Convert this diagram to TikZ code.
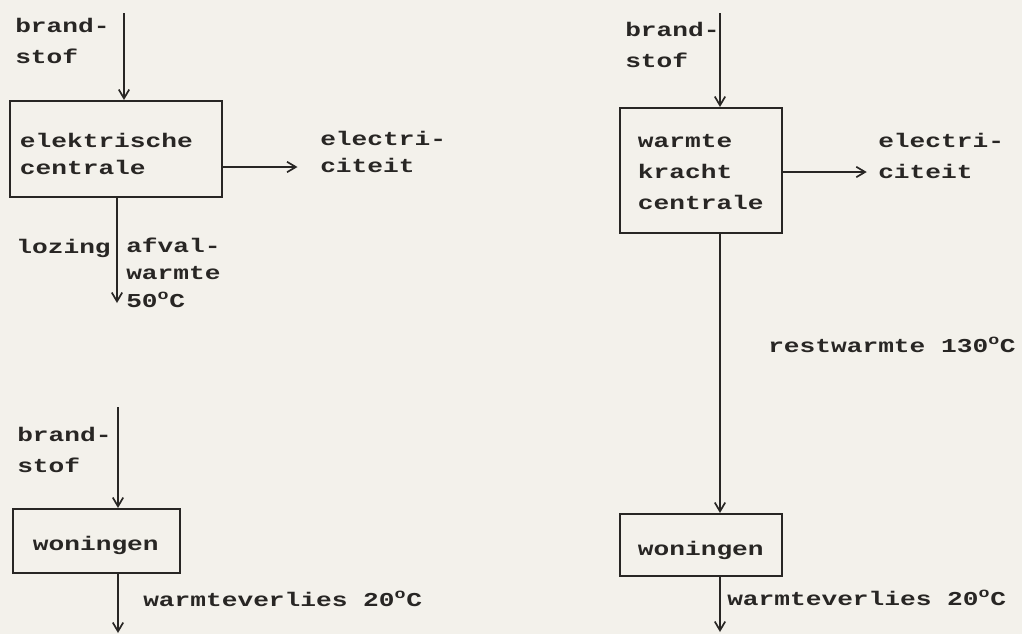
\documentclass[tikz,border=0pt]{standalone}
\usepackage{fontspec}
\setmonofont[FakeStretch=1.33]{Liberation Mono}
\usetikzlibrary{arrows.meta, positioning}
\definecolor{paper}{RGB}{243,241,235}
\definecolor{ink}{RGB}{40,38,36}

\begin{document}
\begin{tikzpicture}[x=0.025cm, y=-0.025cm,
    every node/.style={font=\ttfamily\bfseries\fontsize{14}{22}\selectfont, text=ink},
    box/.style={rectangle, draw=ink, line width=1.2pt, inner ysep=0pt, align=left, anchor=north},
    lbl/.style={inner sep=0pt, align=left, anchor=base west},
    arrow/.style={draw=ink, line width=1.2pt, -{Straight Barb[length=2.2mm, width=2.6mm]}}]

    \useasboundingbox (0,0) rectangle (1022,634);
    \fill[paper] (0,0) rectangle (1022,634);

    % Nodes: elektrische centrale
    \node [box, minimum width=5.3cm, inner xsep=0.25cm, text width=4.8cm,
           text height=1.175cm, text depth=1.225cm,
           font=\ttfamily\bfseries\fontsize{14}{19.2}\selectfont] (ec) at (116,100) {elektrische\\centrale};
    \node [lbl] (ecfuel) at (15,63) {brand-\\stof};
    \node [lbl, font=\ttfamily\bfseries\fontsize{14}{19}\selectfont] (ecelec) at (320,172) {electri-\\citeit};
    \node [lbl, anchor=base east] (dump) at (111,253) {lozing};
    \node [lbl, font=\ttfamily\bfseries\fontsize{14}{19.5}\selectfont] (waste) at (126,307) {afval-\\warmte\\50\textsuperscript{o}C};

    % Nodes: woningen (links)
    \node [box, minimum width=4.175cm, inner xsep=0.5cm, text width=3.175cm,
           text height=1.05cm, text depth=0.55cm] (hl) at (96.5,508) {woningen};
    \node [lbl] (hlfuel) at (17,472) {brand-\\stof};
    \node [lbl] (hlloss) at (143,606) {warmteverlies 20\textsuperscript{o}C};

    % Nodes: warmte kracht centrale
    \node [box, minimum width=4.05cm, inner xsep=0.45cm, text width=3.15cm,
           text height=1.0cm, text depth=2.125cm] (wkc) at (701,107) {warmte\\kracht\\centrale};
    \node [lbl] (wkcfuel) at (625,67) {brand-\\stof};
    \node [lbl] (wkcelec) at (878,178) {electri-\\citeit};
    \node [lbl] (rest) at (768,352) {restwarmte 130\textsuperscript{o}C};

    % Nodes: woningen (rechts)
    \node [box, minimum width=4.05cm, inner xsep=0.45cm, text width=3.15cm,
           text height=1.05cm, text depth=0.5cm] (hr) at (701,513) {woningen};
    \node [lbl] (hrloss) at (727,605) {warmteverlies 20\textsuperscript{o}C};

    % free ends
    \coordinate (ecin) at (124,13);
    \coordinate (ecout) at (117,303);
    \coordinate (hlin) at (118,407);
    \coordinate (hlout) at (118,633);
    \coordinate (wkcin) at (720,13);
    \coordinate (hrout) at (720,632);

    % Arrows
    \draw [arrow] (ecin) -- (ecin |- ec.north);
    \draw [arrow] (ec.east |- 0,167) -- (ecelec.west |- 0,167) [shorten >=16pt];
    \draw [arrow] (ecout |- ec.south) -- (ecout);
    \draw [arrow] (hlin) -- (hlin |- hl.north);
    \draw [arrow] (hlout |- hl.south) -- (hlout);
    \draw [arrow] (wkcin) -- (wkcin |- wkc.north);
    \draw [arrow] (wkc.east |- 0,172) -- (wkcelec.west |- 0,172) [shorten >=8pt];
    \draw [arrow] (wkcin |- wkc.south) -- (wkcin |- hr.north);
    \draw [arrow] (hrout |- hr.south) -- (hrout);

\end{tikzpicture}
\end{document}
